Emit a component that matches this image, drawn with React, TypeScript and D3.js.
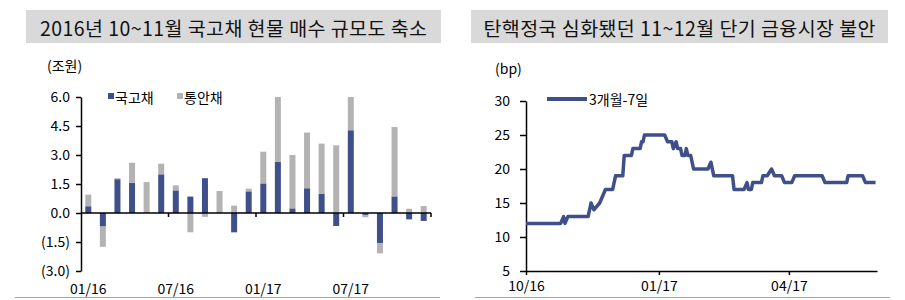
import React, { useEffect, useRef } from 'react';
import * as d3 from 'd3';

const months = [
  '01/16', '02/16', '03/16', '04/16', '05/16', '06/16', '07/16', '08/16', '09/16', '10/16', '11/16', '12/16',
  '01/17', '02/17', '03/17', '04/17', '05/17', '06/17', '07/17', '08/17', '09/17', '10/17', '11/17', '12/17',
];
const shownMonths = ['01/16', '07/16', '01/17', '07/17'];
// 국고채 / 통안채 (조원)
const ktb = [0.35, -0.7, 1.75, 1.55, 0, 2.0, 1.17, 0.85, 1.8, 0, -1.0, 1.12, 1.53, 2.64, 0.24, 1.28, 1.0, -0.67, 4.28, -0.1, -1.55, 0.86, -0.33, -0.41];
const msb = [0.6, -1.05, 0.05, 1.05, 1.6, 0.55, 0.26, -1.0, -0.2, 1.14, 0.38, 0.14, 1.64, 3.36, 2.76, 2.88, 2.59, 3.5, 1.72, -0.12, -0.54, 3.59, 0.22, 0.36];
const barTicks = [-3, -1.5, 0, 1.5, 3, 4.5, 6];

// 3개월-7일 spread (bp)
const spreadDates = [
  '2016-10-01', '2016-10-25', '2016-10-27', '2016-10-28', '2016-10-30', '2016-11-13', '2016-11-15', '2016-11-17',
  '2016-11-19', '2016-11-21', '2016-11-23', '2016-11-25', '2016-11-30', '2016-12-02', '2016-12-07', '2016-12-08',
  '2016-12-13', '2016-12-14', '2016-12-19', '2016-12-20', '2016-12-21', '2016-12-22', '2017-01-05', '2017-01-07',
  '2017-01-10', '2017-01-11', '2017-01-13', '2017-01-14', '2017-01-16', '2017-01-17', '2017-01-19', '2017-01-20',
  '2017-01-21', '2017-01-23', '2017-01-25', '2017-02-04', '2017-02-06', '2017-02-08', '2017-02-21', '2017-02-22',
  '2017-03-01', '2017-03-03', '2017-03-04', '2017-03-06', '2017-03-07', '2017-03-13', '2017-03-14', '2017-03-17',
  '2017-03-20', '2017-03-22', '2017-03-27', '2017-03-29', '2017-04-03', '2017-04-05', '2017-04-24', '2017-04-26',
  '2017-05-11', '2017-05-12', '2017-05-22', '2017-05-24', '2017-05-31',
];
const spreadValues = [
  12, 12, 13, 12, 13, 13, 15, 14,
  14.5, 15, 16, 17, 17, 19, 19, 22,
  22, 23, 23, 24, 24, 25, 25, 24,
  24, 23, 24, 23, 23, 22, 22, 23,
  22, 22, 20, 20, 21, 19, 19, 17,
  17, 18, 17, 17, 18, 18, 19, 19,
  20, 19, 19, 18, 18, 19, 19, 18,
  18, 19, 19, 18, 18,
];
const lineTicks = [5, 10, 15, 20, 25, 30];
const lineTickDates = ['2016-10-01', '2017-01-01', '2017-04-01'];

const FONT = "'Noto Sans CJK KR', 'Noto Sans', sans-serif";
const BLUE = '#3f4f8a';
const GRAY = '#b3b3b3';

export default function App() {
  const ref = useRef<SVGSVGElement>(null);

  useEffect(() => {
    const svg = d3.select(ref.current);
    svg.selectAll('*').remove();
    svg.style('font-family', FONT);

    // title boxes
    const titles = [
      { x: 26, w: 415, len: 387, text: '2016년 10~11월 국고채 현물 매수 규모도 축소' },
      { x: 471, w: 417, len: 392, text: '탄핵정국 심화됐던 11~12월 단기 금융시장 불안' },
    ];
    titles.forEach((t) => {
      svg.append('rect').attr('x', t.x).attr('y', 10).attr('width', t.w).attr('height', 33).attr('fill', '#d9d9d9');
      svg.append('text')
        .attr('x', t.x + t.w / 2).attr('y', 27)
        .attr('text-anchor', 'middle').attr('dominant-baseline', 'central')
        .attr('font-size', 19.5).attr('fill', '#111')
        .attr('textLength', t.len).attr('lengthAdjust', 'spacing')
        .text(t.text);
    });
    svg.append('line').attr('x1', 15).attr('x2', 440).attr('y1', 297.5).attr('y2', 297.5).attr('stroke', '#a6a6a6');
    svg.append('line').attr('x1', 475).attr('x2', 890).attr('y1', 297.5).attr('y2', 297.5).attr('stroke', '#a6a6a6');

    // ---- bar chart ----
    const xBar = d3.scaleBand().domain(months).range([81, 431]);
    const yBar = d3.scaleLinear().domain([-3, 6]).range([271, 97]);
    const rows = months.map((m, i) => ({ month: m, ktb: ktb[i], msb: msb[i] }));
    const series = d3.stack<any>().keys(['ktb', 'msb']).offset(d3.stackOffsetDiverging)(rows);
    const barW = 6;

    const g1 = svg.append('g');
    g1.selectAll('g.s')
      .data(series)
      .enter()
      .append('g')
      .attr('fill', (d) => (d.key === 'ktb' ? BLUE : GRAY))
      .selectAll('rect')
      .data((d) => d)
      .enter()
      .append('rect')
      .attr('x', (d: any) => (xBar(d.data.month) as number) + (xBar.bandwidth() - barW) / 2)
      .attr('width', barW)
      .attr('y', (d) => yBar(Math.max(d[0], d[1])))
      .attr('height', (d) => Math.abs(yBar(d[0]) - yBar(d[1])));

    g1.append('g')
      .attr('transform', 'translate(81,0)')
      .call(
        d3.axisLeft(yBar)
          .tickValues(barTicks)
          .tickSize(5)
          .tickSizeOuter(0)
          .tickPadding(6)
          .tickFormat((v: any) => (v < 0 ? `(${Math.abs(v).toFixed(1)})` : v.toFixed(1)))
      )
      .call((a) => a.selectAll('text').attr('font-size', 14).attr('font-family', FONT).attr('fill', '#000'))
      .call((a) => a.selectAll('line,path').attr('stroke', '#000').attr('stroke-width', 1.5));

    const y0 = yBar(0);
    g1.append('line').attr('x1', 81).attr('x2', 431).attr('y1', y0).attr('y2', y0).attr('stroke', '#000').attr('stroke-width', 1.5);
    [6, 12, 18].forEach((i) => {
      const x = xBar(months[i]) as number;
      g1.append('line').attr('x1', x).attr('x2', x).attr('y1', y0).attr('y2', y0 + 4).attr('stroke', '#000').attr('stroke-width', 1.5);
    });
    g1.append('line').attr('x1', 431).attr('x2', 431).attr('y1', y0).attr('y2', y0 + 4).attr('stroke', '#000').attr('stroke-width', 1.5);
    shownMonths.forEach((m) => {
      g1.append('text')
        .attr('x', (xBar(m) as number) + xBar.bandwidth() / 2)
        .attr('y', 288)
        .attr('text-anchor', 'middle').attr('dominant-baseline', 'central')
        .attr('font-size', 14)
        .text(m);
    });
    g1.append('text').attr('x', 47).attr('y', 65).attr('dominant-baseline', 'central').attr('font-size', 14).text('(조원)');

    const legend1 = [
      { x: 108, color: BLUE, label: '국고채' },
      { x: 177, color: GRAY, label: '통안채' },
    ];
    legend1.forEach((l) => {
      g1.append('rect').attr('x', l.x).attr('y', 93).attr('width', 6).attr('height', 6).attr('fill', l.color);
      g1.append('text').attr('x', l.x + 7).attr('y', 97).attr('dominant-baseline', 'central').attr('font-size', 14).text(l.label);
    });

    // ---- line chart ----
    const parse = d3.timeParse('%Y-%m-%d');
    const xLine = d3.scaleTime().domain([new Date(2016, 9, 1), new Date(2017, 5, 1)]).range([526, 877]);
    const yLine = d3.scaleLinear().domain([5, 30]).range([271, 101]);
    const pts = spreadDates.map((d, i) => ({ date: parse(d) as Date, v: spreadValues[i] }));

    const g2 = svg.append('g');
    g2.append('g')
      .attr('transform', 'translate(526,0)')
      .call(d3.axisLeft(yLine).tickValues(lineTicks).tickSize(6).tickSizeOuter(0).tickPadding(10))
      .call((a) => a.selectAll('text').attr('font-size', 14).attr('font-family', FONT).attr('fill', '#000'))
      .call((a) => a.selectAll('line,path').attr('stroke', '#000').attr('stroke-width', 1.5));

    g2.append('g')
      .attr('transform', 'translate(0,271)')
      .call(
        d3.axisBottom(xLine)
          .tickValues(lineTickDates.map((d) => parse(d) as Date))
          .tickSize(4)
          .tickSizeOuter(0)
          .tickPadding(6)
          .tickFormat((d: any) => d3.timeFormat('%m/%y')(d))
      )
      .call((a) => a.selectAll('text').attr('font-size', 14).attr('font-family', FONT).attr('fill', '#000'))
      .call((a) => a.selectAll('line,path').attr('stroke', '#000').attr('stroke-width', 1.5));

    const line = d3.line<any>().x((d) => xLine(d.date)).y((d) => yLine(d.v));
    g2.append('path')
      .datum(pts)
      .attr('d', line)
      .attr('fill', 'none')
      .attr('stroke', BLUE)
      .attr('stroke-width', 3.5)
      .attr('stroke-linejoin', 'round');

    g2.append('text').attr('x', 495).attr('y', 68).attr('dominant-baseline', 'central').attr('font-size', 14).text('(bp)');
    g2.append('line').attr('x1', 547).attr('x2', 587).attr('y1', 99).attr('y2', 99).attr('stroke', BLUE).attr('stroke-width', 4);
    g2.append('text').attr('x', 589).attr('y', 99).attr('dominant-baseline', 'central').attr('font-size', 14).text('3개월-7일');
  }, []);

  return (
    <svg
      ref={ref}
      width={905}
      height={300}
      style={{ position: 'absolute', left: 0, top: 0, background: '#fff' }}
    />
  );
}
